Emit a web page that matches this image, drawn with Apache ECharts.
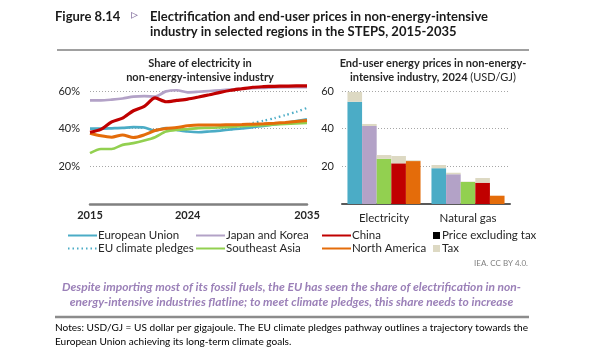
<!DOCTYPE html>
<html><head><meta charset="utf-8">
<script src="https://cdn.jsdelivr.net/npm/echarts@6/dist/echarts.min.js"></script>
<style>html,body{margin:0;padding:0;background:#fff}#c{width:589px;height:352px}</style>
</head><body><div id="c"></div>
<script>
const years = [2015,2016,2017,2018,2019,2020,2021,2022,2023,2024,2025,2026,2027,2028,2029,2030,2031,2032,2033,2034,2035];
const yearLabels = ['2015','2024','2035'];
const euShare = [40,40,40.2,40.4,40.8,40.6,39,40.3,39.4,38.5,38.1,38.5,39,39.6,40.1,40.8,41.5,42.2,43,44,45];
const euPledges = [null,null,null,null,null,null,null,null,null,null,null,null,null,39.6,41,43,44.2,45.6,47.2,48.9,51];
const japanKorea = [55,55,55.4,56,57,57.3,57,59.8,60.4,59.3,59.6,60,60.4,60.8,61.2,61.5,61.7,61.9,62,62,62.1];
const china = [38.1,39.6,43.6,45.6,49.5,51.8,56.3,54.3,55,55.7,56.8,58,59.3,60.4,61.2,62,62.3,62.5,62.6,62.7,62.7];
const seAsia = [27,29.2,29.2,31.4,32.3,33.7,35.5,38.5,39.4,39.7,40.3,40.4,40.7,41,41.3,41.6,41.9,42.2,42.5,42.8,43];
const northAmerica = [37.6,36.2,35.5,36.7,35.3,36.7,39,40.1,40.6,41.5,41.9,41.9,42,42.1,42.2,42.4,42.6,42.9,43.3,43.8,44.3];

const fuels = ['Electricity','Natural gas'];
const regions = ['European Union','Japan and Korea','Southeast Asia','China','North America'];
// [electricity, natural gas] per region
const priceExTax = {
  'European Union':[54.3,19],
  'Japan and Korea':[41.4,15.8],
  'Southeast Asia':[24,11.7],
  'China':[21.6,11.3],
  'North America':[22.8,4.4]
};
const tax = {
  'European Union':[5.2,1.7],
  'Japan and Korea':[1.1,0.8],
  'Southeast Asia':[2,0.2],
  'China':[3.9,2.5],
  'North America':[0.4,0]
};
const shareTicks = [20,40,60];
const priceTicks = [20,40,60];

const colors = {
  'European Union':'#4BACC6',
  'Japan and Korea':'#B3A2C7',
  'Southeast Asia':'#92D050',
  'China':'#C00000',
  'North America':'#E46C0A'
};
const taxColor = '#DDD9C3';
const FONT = 'Lato';
const txt = '#262626';

const mctx = document.createElement('canvas').getContext('2d');
function fitScale(text, font, target){
  mctx.font = font;
  const w = mctx.measureText(text).width;
  return w > 0 ? target / w : 1;
}

const chart = echarts.init(document.getElementById('c'), null, {renderer:'canvas'});

function lineSeries(name, data, color, width, dotted){
  return {type:'line', name, data, xAxisIndex:0, yAxisIndex:0, symbol:'none', smooth:0.25,
    clip:false, connectNulls:false,
    lineStyle:{color, width, type: dotted ? [1.5,3] : 'solid'}, itemStyle:{color}, z:3};
}

const series = [
  lineSeries('Japan and Korea', japanKorea, colors['Japan and Korea'], 2.7),
  lineSeries('European Union', euShare, colors['European Union'], 2.7),
  lineSeries('EU climate pledges', euPledges, colors['European Union'], 2.3, true),
  lineSeries('Southeast Asia', seAsia, colors['Southeast Asia'], 2.7),
  lineSeries('North America', northAmerica, colors['North America'], 3),
  lineSeries('China', china, colors['China'], 3.2),
  {type:'bar', name:'Price excluding tax', data:[], xAxisIndex:0, yAxisIndex:0, itemStyle:{color:'#000'}},
  {type:'bar', name:'Tax', data:[], xAxisIndex:0, yAxisIndex:0, itemStyle:{color:taxColor}}
];
regions.forEach(r=>{
  series.push({type:'bar', name:'p_'+r, stack:r, data:priceExTax[r], xAxisIndex:1, yAxisIndex:1,
    itemStyle:{color:colors[r]}, barGap:'0%', barCategoryGap:'13%'});
  series.push({type:'bar', name:'Tax', stack:r, data:tax[r], xAxisIndex:1, yAxisIndex:1,
    itemStyle:{color:taxColor}, barGap:'0%', barCategoryGap:'13%'});
});

const legendText = {fontFamily:FONT, fontSize:11.5, color:txt, lineHeight:13, padding:[0,0,0,-4]};
const legendBase = {orient:'vertical', itemWidth:29, itemHeight:8, itemGap:0, selectedMode:false,
  itemStyle:{opacity:0}, textStyle:legendText};

const titleFont = 'bold 12.5px ' + FONT;
const t1 = 'Electrification and end-user prices in non-energy-intensive';
const t2 = 'industry in selected regions in the STEPS, 2015-2035';
const titleScale = fitScale(t1, titleFont, 338);
const msgFont = 'italic bold 11px ' + FONT;
const m1 = 'Despite importing most of its fossil fuels, the EU has seen the share of electrification in non-';
const m2 = 'energy-intensive industries flatline; to meet climate pledges, this share needs to increase';
const msgScale = fitScale(m1, msgFont, 459);
const noteFont = '10px ' + FONT;
const n1 = 'Notes: USD/GJ = US dollar per gigajoule. The EU climate pledges pathway outlines a trajectory towards the';
const n2 = 'European Union achieving its long-term climate goals.';
const noteScale = fitScale(n1, noteFont, 473);

const option = {
  animation:false,
  grid:[
    {left:90, top:91, width:217, height:113},
    {left:342, top:91, width:168, height:113}
  ],
  xAxis:[
    {type:'category', gridIndex:0, data:years.map(String), boundaryGap:false,
      axisLine:{lineStyle:{color:'#808080', width:2.5}}, axisTick:{show:false},
      axisLabel:{interval:0, formatter:v=>yearLabels.includes(v)?v:'', margin:6,
        fontFamily:FONT, fontSize:11, fontWeight:'bold', color:txt}},
    {type:'category', gridIndex:1, data:fuels,
      axisLine:{lineStyle:{color:'#595959', width:2}}, axisTick:{show:false},
      axisLabel:{margin:8, fontFamily:FONT, fontSize:11.5, color:txt}}
  ],
  yAxis:[
    {type:'value', gridIndex:0, min:0, max:60, interval:20,
      axisLine:{show:false}, axisTick:{show:false},
      axisLabel:{formatter:v=>shareTicks.includes(v)?v+'%':'', margin:10, fontFamily:FONT, fontSize:11, color:txt},
      splitLine:{lineStyle:{color:'#a6a6a6', type:[1,2], width:1}}},
    {type:'value', gridIndex:1, min:0, max:60, interval:20,
      axisLine:{show:false}, axisTick:{show:false},
      axisLabel:{formatter:v=>priceTicks.includes(v)?String(v):'', margin:8, fontFamily:FONT, fontSize:11, color:txt},
      splitLine:{lineStyle:{color:'#a6a6a6', type:[1,2], width:1}}}
  ],
  legend:[
    Object.assign({}, legendBase, {left:62, top:224, data:['European Union','EU climate pledges']}),
    Object.assign({}, legendBase, {left:190, top:224, data:['Japan and Korea','Southeast Asia']}),
    Object.assign({}, legendBase, {left:316, top:224, data:['China','North America']}),
    {orient:'vertical', left:428, top:224, itemWidth:7, itemHeight:7, itemGap:0, selectedMode:false,
      textStyle:Object.assign({}, legendText, {padding:[0,0,0,-3]}),
      data:[{name:'Price excluding tax', icon:'rect'},{name:'Tax', icon:'rect'}]}
  ],
  graphic:[
    {type:'text', left:55, top:10, style:{text:'Figure 8.14', font:'bold 13px '+FONT, fill:'#1a1a1a'}},
    {type:'text', left:131, top:8, style:{text:'▹', font:'14px DejaVu Sans', fill:'#8c7aa5'}},
    {type:'text', x:150, y:17, scaleX:titleScale, style:{text:t1, font:titleFont, fill:'#1a1a1a', textVerticalAlign:'middle'}},
    {type:'text', x:150, y:32, scaleX:titleScale, style:{text:t2, font:titleFont, fill:'#1a1a1a', textVerticalAlign:'middle'}},
    {type:'line', shape:{x1:57, y1:50, x2:529, y2:50}, style:{stroke:'#808080', lineWidth:1.5}},
    {type:'text', x:200, y:70, style:{text:'Share of electricity in\nnon-energy-intensive industry', font:'bold 11px '+FONT, fill:txt,
      textAlign:'center', textVerticalAlign:'middle', lineHeight:14}},
    {type:'text', x:433, y:70, style:{
      text:'{b|End-user energy prices in non-energy-}\n{b|intensive industry, 2024 }{n|(USD/GJ)}',
      textAlign:'center', textVerticalAlign:'middle',
      rich:{b:{font:'bold 11px '+FONT, fill:txt, lineHeight:14}, n:{font:'11px '+FONT, fill:txt, lineHeight:14}}}},
    {type:'text', right:61, top:259, style:{text:'IEA. CC BY 4.0.', font:'8px '+FONT, fill:'#808080'}},
    {type:'text', x:291.5, y:287, scaleX:msgScale, style:{text:m1, font:msgFont, fill:'#9B80B8', textAlign:'center', textVerticalAlign:'middle'}},
    {type:'text', x:291.5, y:302, scaleX:msgScale, style:{text:m2, font:msgFont, fill:'#9B80B8', textAlign:'center', textVerticalAlign:'middle'}},
    {type:'line', shape:{x1:55, y1:317, x2:529, y2:317}, style:{stroke:'#8c8c8c', lineWidth:2.5}},
    {type:'text', x:55, y:328, scaleX:noteScale, style:{text:n1, font:noteFont, fill:'#000', textVerticalAlign:'middle'}},
    {type:'text', x:55, y:342, scaleX:noteScale, style:{text:n2, font:noteFont, fill:'#000', textVerticalAlign:'middle'}}
  ],
  series
};
chart.setOption(option);
</script></body></html>
